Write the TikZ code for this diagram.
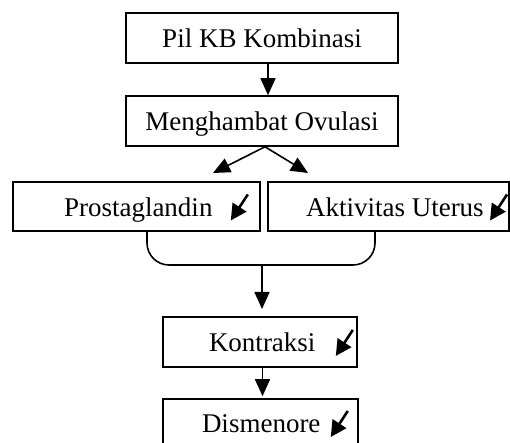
\documentclass[tikz,border=0pt]{standalone}
\usepackage{fontspec}
\setmainfont{Liberation Serif}
\usetikzlibrary{arrows.meta,calc}
\newcommand\sarr{\tikz[x=1pt,y=1pt,baseline={(0,4)}]\draw[line width=2.6pt,-{Triangle[length=16pt,width=16pt]}] (17,26) -- (0,0);}
\newcommand\boxtxt[4]{\makebox[#1][l]{\hspace{#2}#3\hspace{#4}\sarr}}
\tikzset{
  flowbox/.style={draw, line width=1.6pt, rectangle, inner sep=0pt, text height=23pt, text depth=3pt, font=\fontsize{27}{31}\selectfont},
  conn/.style={line width=1.6pt, -{Triangle[length=17pt,width=15pt]}},
  brace/.style={line width=1.6pt, rounded corners=22pt}
}
\begin{document}
\begin{tikzpicture}[x=1pt,y=1pt]
\useasboundingbox (0,0) rectangle (510,443);
\clip (0,0) rectangle (510,443);
\node[flowbox, minimum width=272pt, minimum height=50pt] (b1) at (262,405) {Pil KB Kombinasi};
\node[flowbox, minimum width=272pt, minimum height=50pt] (b2) at (262,322) {Menghambat Ovulasi};
\node[flowbox, minimum width=247pt, minimum height=49pt] (b3) at (136.5,236.5) {\boxtxt{247pt}{51pt}{Prostaglandin}{17pt}};
\node[flowbox, minimum width=241pt, minimum height=49pt] (b4) at (388.5,236.5) {\boxtxt{241pt}{38pt}{Aktivitas Uterus}{5pt}};
\node[flowbox, minimum width=194pt, minimum height=50pt] (b5) at (260,101) {\boxtxt{194pt}{46pt}{Kontraksi}{19pt}};
\node[flowbox, minimum width=195pt, minimum height=48pt] (b6) at (260.5,20) {\boxtxt{195pt}{39pt}{Dismenore}{9pt}};
\coordinate (t1) at (213,270);
\coordinate (t2) at (308,270);
\coordinate (m) at (262,178);
\coordinate (t3) at (262,134);
\draw[conn] ([xshift=6pt]b1.south) -- ([xshift=6pt]b2.north);
\draw[conn] ([xshift=3pt]b2.south) -- (t1);
\draw[conn] ([xshift=3pt]b2.south) -- (t2);
\draw[brace] ([xshift=10.5pt]b3.south) |- (m) -| ([xshift=-13.5pt]b4.south);
\draw[conn] (m) -- (t3);
\draw[conn] ([xshift=2.5pt]b5.south) -- ([xshift=2pt,yshift=2pt]b6.north);
\end{tikzpicture}
\end{document}
